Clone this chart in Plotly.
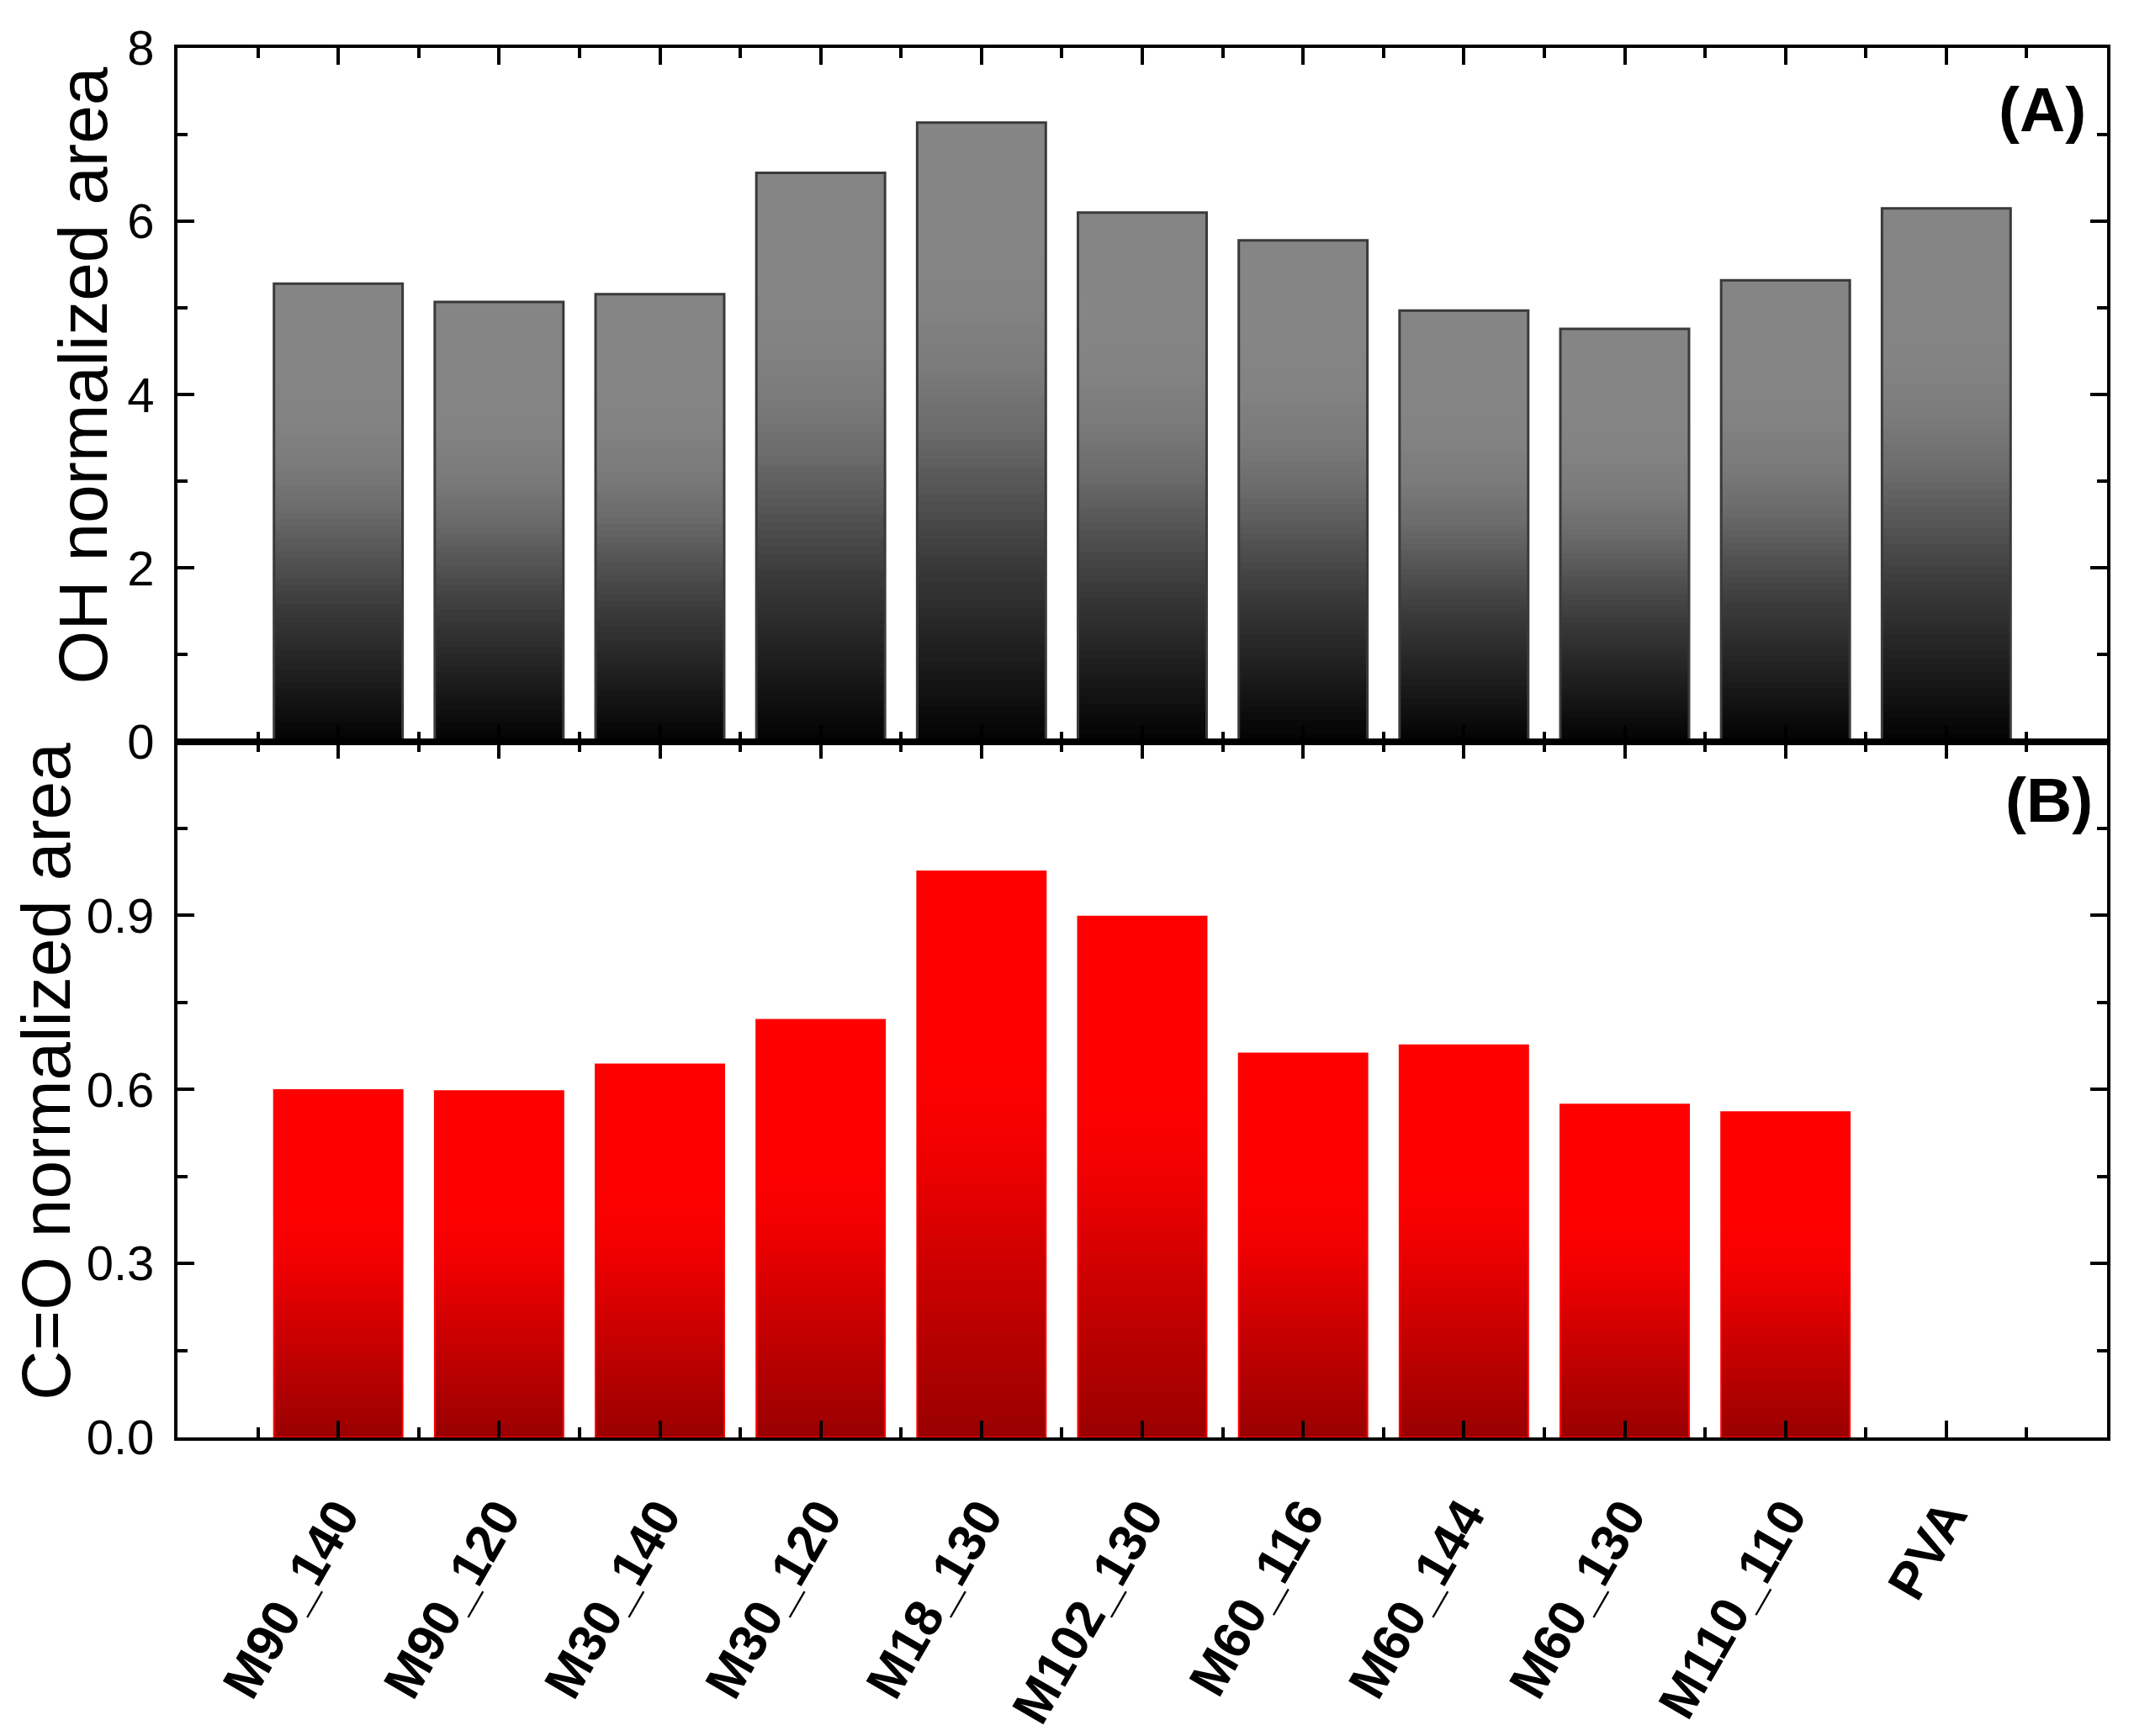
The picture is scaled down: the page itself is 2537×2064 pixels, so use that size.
import plotly.graph_objects as go

# ---------------- data ----------------
categories = ["M90_140", "M90_120", "M30_140", "M30_120", "M18_130", "M102_130",
              "M60_116", "M60_144", "M60_130", "M110_110", "PVA"]
oh_area = [5.28, 5.07, 5.16, 6.56, 7.14, 6.10, 5.78, 4.97, 4.76, 5.32, 6.15]
co_area = [0.599, 0.597, 0.643, 0.720, 0.976, 0.898, 0.662, 0.676, 0.574, 0.561, None]
oh_ticks = [0, 2, 4, 6, 8]
oh_minor = [1, 3, 5, 7]
co_ticks = [0.0, 0.3, 0.6, 0.9]
co_ticktext = ["0.0", "0.3", "0.6", "0.9"]
co_minor = [0.15, 0.45, 0.75, 1.05]

# ---------------- styling ----------------
W, H = 2537, 2064
OFF = 8  # default page body margin shifts the figure by this much
# desired on-screen plot box
SX0, SX1, SY0, SY1, SYMID = 211, 2505, 57, 1720, 887
ML = SX0 - OFF
MT = SY0 - OFF
MR = W - (SX1 - OFF)
MB = H - (SY1 - OFF)
plot_w = SX1 - SX0
plot_h = SY1 - SY0
split = (SY1 - SYMID) / plot_h
FONT = "Liberation Sans, Arial, sans-serif"
BAR_W = 0.8
N_BANDS = 70

xpos = list(range(len(categories)))


def px(sx):
    return (sx - SX0) / plot_w


def py(sy):
    return (SY1 - sy) / plot_h


def ramp(t, stops):
    for (t0, v0), (t1, v1) in zip(stops[:-1], stops[1:]):
        if t <= t1:
            return v0 + (v1 - v0) * (t - t0) / (t1 - t0)
    return stops[-1][1]


GRAY_STOPS = [(0.0, 0.02), (0.3, 0.45), (0.5, 0.80), (0.6, 0.92), (0.7, 0.98), (0.8, 1.0), (1.0, 1.0)]
RED_STOPS = [(0.0, 0.0), (0.3, 0.50), (0.5, 0.86), (0.6, 0.96), (0.7, 1.0), (1.0, 1.0)]


def gray_color(t):
    g = int(round(133 * ramp(t, GRAY_STOPS)))
    return f"rgb({g},{g},{g})"


def red_color(t):
    r = int(round(153 + (255 - 153) * ramp(t, RED_STOPS)))
    return f"rgb({r},0,0)"


fig = go.Figure()


def add_gradient_bars(values, color_fn, xa, ya, line_color, line_width):
    # stacked overlay of progressively shorter bars -> vertical gradient per bar
    for k in range(N_BANDS - 1, -1, -1):
        frac = (k + 1) / N_BANDS
        t = (k + 0.5) / N_BANDS
        yv = [None if v is None else v * frac for v in values]
        fig.add_trace(go.Bar(
            x=xpos, y=yv, width=BAR_W, xaxis=xa, yaxis=ya,
            marker=dict(color=color_fn(t), line=dict(width=0)),
            showlegend=False, hoverinfo="skip"))
    fig.add_trace(go.Bar(
        x=xpos, y=values, width=BAR_W, xaxis=xa, yaxis=ya,
        marker=dict(color="rgba(0,0,0,0)", line=dict(color=line_color, width=line_width)),
        showlegend=False, hoverinfo="skip"))


add_gradient_bars(oh_area, gray_color, "x", "y", "#3a3a3a", 3)
add_gradient_bars(co_area, red_color, "x2", "y2", "#ff0000", 2)

axis_common = dict(
    showline=True, linecolor="black", linewidth=4, mirror="ticks",
    ticks="inside", ticklen=20, tickwidth=4, tickcolor="black",
    showgrid=False, zeroline=False,
)
minor_common = dict(ticks="inside", ticklen=12, tickwidth=4, tickcolor="black",
                    showgrid=False, tickmode="array")
xminor = [i - 0.5 for i in range(len(categories) + 1)]

fig.update_layout(
    width=W, height=H,
    margin=dict(l=ML, r=MR, t=MT, b=MB, pad=0),
    paper_bgcolor="white", plot_bgcolor="white",
    barmode="overlay",
    font=dict(family=FONT, color="black"),
    xaxis=dict(domain=[0, 1], anchor="y", range=[-1, len(categories)],
               tickmode="array", tickvals=xpos, showticklabels=False,
               minor=dict(tickvals=xminor, **minor_common), **axis_common),
    yaxis=dict(domain=[split, 1], anchor="x", range=[0, 8],
               tickmode="array", tickvals=oh_ticks,
               tickfont=dict(size=58, family=FONT), ticklabelstandoff=12,
               minor=dict(tickvals=oh_minor, **minor_common), **axis_common),
    xaxis2=dict(domain=[0, 1], anchor="y2", range=[-1, len(categories)],
                tickmode="array", tickvals=xpos, ticktext=categories,
                tickangle=-60, ticklabelstandoff=28,
                tickfont=dict(size=62, family=FONT, weight="bold"),
                minor=dict(tickvals=xminor, **minor_common), **axis_common),
    yaxis2=dict(domain=[0, split], anchor="x2", range=[0, 1.2],
                tickmode="array", tickvals=co_ticks, ticktext=co_ticktext,
                tickfont=dict(size=58, family=FONT), ticklabelstandoff=12,
                minor=dict(tickvals=co_minor, **minor_common), **axis_common),
)

annotations = [
    dict(text="OH normalized area", xref="paper", yref="paper",
         x=px(98), y=py(449),
         xanchor="center", yanchor="middle", textangle=-90, showarrow=False,
         font=dict(size=82, family=FONT, color="black")),
    dict(text="C=O normalized area", xref="paper", yref="paper",
         x=px(55), y=py(1282),
         xanchor="center", yanchor="middle", textangle=-90, showarrow=False,
         font=dict(size=82, family=FONT, color="black")),
    dict(text="<b>(A)</b>", xref="paper", yref="paper",
         x=px(2428), y=py(130),
         xanchor="center", yanchor="middle", showarrow=False,
         font=dict(size=75, family=FONT, color="black")),
    dict(text="<b>(B)</b>", xref="paper", yref="paper",
         x=px(2436), y=py(957),
         xanchor="center", yanchor="middle", showarrow=False,
         font=dict(size=75, family=FONT, color="black")),
]
fig.update_layout(annotations=annotations)

fig.write_html("out.html")
